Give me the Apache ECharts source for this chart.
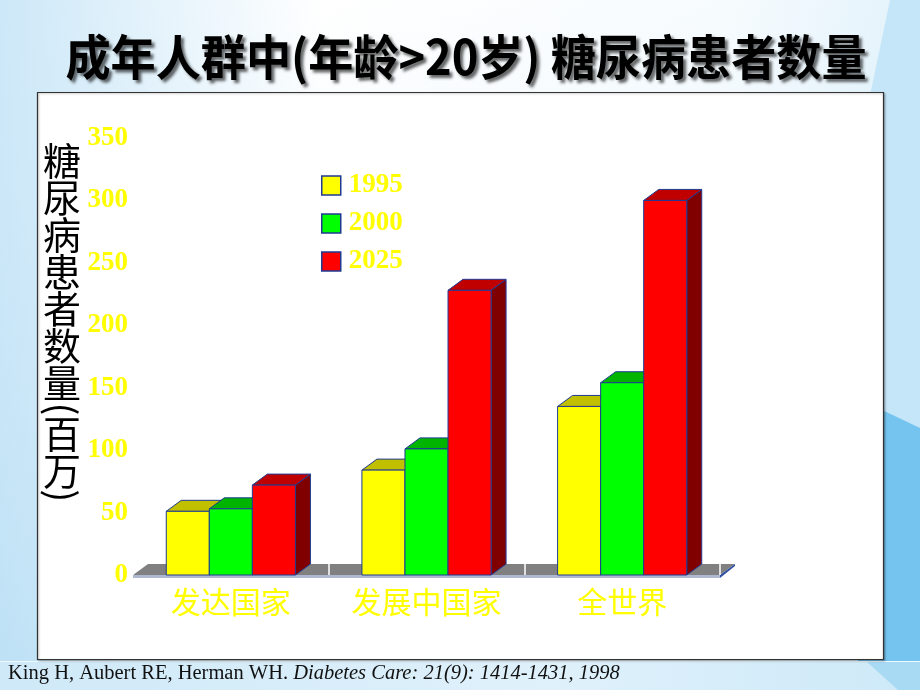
<!DOCTYPE html>
<html><head><meta charset="utf-8">
<script src="https://cdn.jsdelivr.net/npm/echarts@6/dist/echarts.min.js"></script>
<style>html,body{margin:0;padding:0;background:#fff;}#c{width:920px;height:690px;}</style>
</head><body><div id="c"></div>
<script>
// ---- data ----
const titleText = '成年人群中(年龄>20岁) 糖尿病患者数量';
const yAxisNameChars = ['糖','尿','病','患','者','数','量','(','百','万',')'];
const categories = ['发达国家', '发展中国家', '全世界'];
const years = ['1995', '2000', '2025'];
const values1995 = [51, 84, 135];
const values2000 = [53, 101, 154];
const values2025 = [72, 228, 300];
const yMin = 0, yMax = 350, yInterval = 50;
const citeNormal = 'King H, Aubert RE, Herman WH. ';
const citeItalic = 'Diabetes Care: 21(9): 1414-1431, 1998';

// ---- styles ----
const palettes = [
  {front: '#FFFF00', top: '#C0C000', side: '#808000'},
  {front: '#00FF00', top: '#00B400', side: '#007A00'},
  {front: '#FF0000', top: '#C00000', side: '#800000'}
];
const EDGE = '#1F3A93';
const DX = 15, DY = 11;

function barRender(k, pal) {
  return function (params, api) {
    const ci = api.value(0), v = api.value(1);
    const base = api.coord([ci, 0]);
    const topP = api.coord([ci, v]);
    const band = api.size([1, 0])[0];
    const bw = band * 0.22;
    const x0 = base[0] - 1.5 * bw + k * bw;
    const x1 = x0 + bw;
    const yb = base[1], yt = topP[1];
    const st = {stroke: EDGE, lineWidth: 1};
    return {
      type: 'group',
      children: [
        {type: 'polygon', shape: {points: [[x1, yt], [x1 + DX, yt - DY], [x1 + DX, yb - DY], [x1, yb]]},
          style: Object.assign({fill: pal.side}, st)},
        {type: 'polygon', shape: {points: [[x0, yt], [x0 + DX, yt - DY], [x1 + DX, yt - DY], [x1, yt]]},
          style: Object.assign({fill: pal.top}, st)},
        {type: 'rect', shape: {x: x0, y: yt, width: bw, height: yb - yt},
          style: Object.assign({fill: pal.front}, st)}
      ]
    };
  };
}

function floorRender(params, api) {
  const cs = params.coordSys;
  const xl = cs.x, xr = cs.x + cs.width, yb = cs.y + cs.height;
  return {
    type: 'group',
    children: [
      {type: 'rect', shape: {x: xl, y: yb, width: xr - xl, height: 3}, style: {fill: '#AEB8D2'}},
      {type: 'polygon', shape: {points: [[xl, yb], [xl + DX, yb - DY], [xr + DX, yb - DY], [xr, yb]]},
        style: {fill: '#808080'}},
      {type: 'polygon', shape: {points: [[xr, yb + 3], [xr, yb], [xr + DX, yb - DY], [xr + DX, yb - DY + 2]]},
        style: {fill: '#3050A0'}}
    ]
  };
}

const seriesValues = [values1995, values2000, values2025];
const series = [{
  type: 'custom', name: 'floor', renderItem: floorRender, data: [[0, 0]], z: 1, silent: true
}];
years.forEach((y, k) => {
  series.push({
    type: 'custom', name: y, z: 2 + k,
    itemStyle: {color: palettes[k].front, borderColor: EDGE},
    renderItem: barRender(k, palettes[k]),
    encode: {x: 0, y: 1},
    data: seriesValues[k].map((v, i) => [i, v])
  });
});

// vertical y-axis name: characters stacked, parentheses turned sideways
const yNameChildren = [];
let cy = 161;
yAxisNameChars.forEach((c) => {
  const paren = (c === '(' || c === ')');
  if (paren) {
    const py = c === '(' ? cy - 11 : cy - 12;
    yNameChildren.push({type: 'text', x: 62, y: py, rotation: -Math.PI / 2,
      style: {text: c, fill: '#000', font: '38px "Noto Sans CJK SC"', align: 'center', verticalAlign: 'middle'}});
    cy += 14;
  } else {
    yNameChildren.push({type: 'text', x: 62, y: cy,
      style: {text: c, fill: '#000', font: '38px "Noto Sans CJK SC"', align: 'center', verticalAlign: 'middle'}});
    cy += 37;
  }
});

const option = {
  animation: false,
  graphic: [
    {type: 'rect', z: -100, shape: {x: 0, y: 0, width: 920, height: 690},
      style: {fill: new echarts.graphic.LinearGradient(0, 0, 1, 0, [
        {offset: 0, color: '#cde8f8'}, {offset: 0.35, color: '#ffffff'},
        {offset: 0.8, color: '#f6fbfe'}, {offset: 1, color: '#e2f2fb'}])}},
    {type: 'rect', z: -99, shape: {x: 0, y: 0, width: 920, height: 690},
      style: {fill: new echarts.graphic.LinearGradient(0, 0, 0, 1, [
        {offset: 0, color: 'rgba(200,230,248,0)'}, {offset: 1, color: 'rgba(170,215,242,0.45)'}])}},
    {type: 'polygon', z: -98, shape: {points: [[890, 0], [920, 0], [920, 430], [800, 430]]},
      style: {fill: '#c4e6f8'}},
    {type: 'polygon', z: -97, shape: {points: [[840, 390], [920, 428], [920, 690], [860, 690]]},
      style: {fill: '#74c4ef'}},
    {type: 'rect', z: -96, shape: {x: 0, y: 661, width: 920, height: 29},
      style: {fill: new echarts.graphic.LinearGradient(0, 0, 1, 0, [
        {offset: 0, color: '#cfe9f8'}, {offset: 0.6, color: '#dff1fb'}, {offset: 1, color: '#cde9f8'}])}},
    {type: 'polygon', z: -95, shape: {points: [[866, 661], [920, 661], [920, 690], [898, 690]]},
      style: {fill: '#a8daf4'}},
    {type: 'line', z: -94, shape: {x1: 0, y1: 661.5, x2: 920, y2: 661.5}, style: {stroke: '#eef8fd', lineWidth: 1}},
    {type: 'rect', z: -90, shape: {x: 37.5, y: 92.5, width: 846, height: 567},
      style: {fill: '#ffffff', stroke: '#333333', lineWidth: 1.2, shadowColor: 'rgba(0,0,0,0.25)', shadowOffsetX: 1, shadowOffsetY: 1, shadowBlur: 2}},
    {type: 'text', z: 10, x: 466, y: 57, scaleX: 0.94,
      style: {text: titleText, fill: '#000', font: 'bold 48px "Noto Sans CJK SC"', align: 'center', verticalAlign: 'middle',
        textShadowColor: 'rgba(0,0,0,0.6)', textShadowOffsetX: 3, textShadowOffsetY: 3, textShadowBlur: 3}},
    {type: 'group', z: 10, children: yNameChildren},
    {type: 'text', z: 10, x: 8, y: 674,
      style: {text: '{n|' + citeNormal + '}{i|' + citeItalic + '}', verticalAlign: 'middle', align: 'left',
        rich: {
          n: {fontSize: 20.5, fontFamily: 'Liberation Serif', fill: '#111'},
          i: {fontSize: 20.5, fontFamily: 'Liberation Serif', fontStyle: 'italic', fill: '#111'}
        }}}
  ],
  legend: {
    data: years.map((y, k) => ({name: y, icon: 'rect',
      itemStyle: {color: palettes[k].front, borderColor: EDGE, borderWidth: 1.5}})),
    orient: 'vertical', left: 321, top: 172, padding: 0, itemWidth: 19, itemHeight: 19, itemGap: 11,
    selectedMode: false,
    textStyle: {color: '#FFFF00', fontSize: 27, fontWeight: 'bold', fontFamily: 'Liberation Serif', padding: [0, 0, 0, 3]}
  },
  grid: {left: 133, right: 200, top: 138, bottom: 115},
  xAxis: {
    type: 'category', data: categories, boundaryGap: true, z: 10,
    axisLine: {show: false},
    axisTick: {show: true, inside: true, length: 11, lineStyle: {color: '#ffffff', width: 1.5}},
    axisLabel: {color: '#FFFF00', fontSize: 30, fontFamily: 'Noto Sans CJK SC', margin: 12}
  },
  yAxis: {
    type: 'value', min: yMin, max: yMax, interval: yInterval,
    axisLine: {show: false}, axisTick: {show: false},
    splitLine: {show: false},
    axisLabel: {color: '#FFFF00', fontSize: 27, fontWeight: 'bold', fontFamily: 'Liberation Serif', margin: 5}
  },
  series: series
};
const chart = echarts.init(document.getElementById('c'), null, {renderer: 'canvas'});
chart.setOption(option);
</script></body></html>
